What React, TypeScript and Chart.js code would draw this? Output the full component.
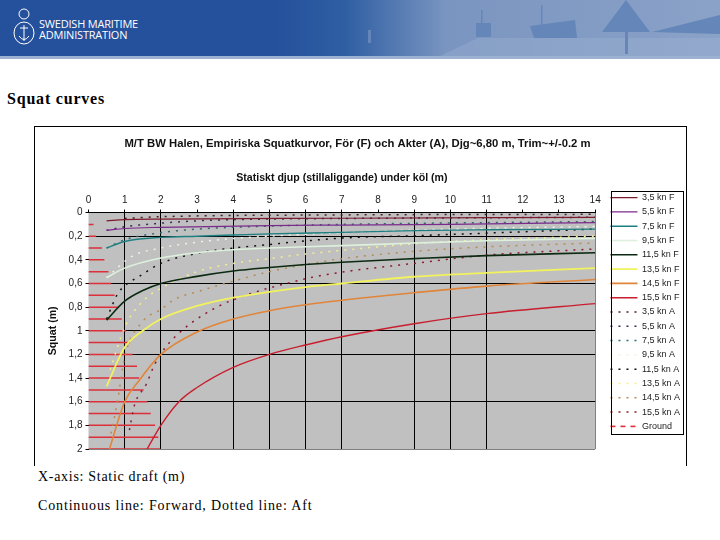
import { useEffect, useRef } from "react"
import { Chart, registerables } from "chart.js"

Chart.register(...registerables)

const CHART_TITLE = "M/T BW Halen, Empiriska Squatkurvor, För (F) och Akter (A), Djg~6,80 m, Trim~+/-0.2 m"
const X_TITLE = "Statiskt djup (stillaliggande) under köl (m)"
const Y_TITLE = "Squat (m)"

// forward curves
const xF35 = [0.5, 1, 2, 7, 14]
const yF35 = [0.07, 0.06, 0.055, 0.048, 0.04]
const xF55 = [0.5, 1, 2, 5, 7, 10, 14]
const yF55 = [0.15, 0.135, 0.125, 0.11, 0.106, 0.1, 0.085]
const xF75 = [0.5, 1, 2, 3, 4, 5, 7, 9, 11, 14]
const yF75 = [0.3, 0.245, 0.21, 0.2, 0.19, 0.18, 0.168, 0.153, 0.146, 0.14]
const xF95 = [0.5, 1, 2, 3, 4, 5, 7, 9, 11, 14]
const yF95 = [0.55, 0.47, 0.385, 0.34, 0.315, 0.3, 0.28, 0.258, 0.238, 0.218]
const xF115 = [0.5, 1, 1.5, 2, 3, 4, 5, 6, 7, 9, 11, 14]
const yF115 = [0.91, 0.75, 0.66, 0.6, 0.54, 0.495, 0.465, 0.44, 0.42, 0.39, 0.364, 0.34]
const xF135 = [0.5, 1, 1.5, 2, 3, 4, 5, 6, 7, 9, 11, 14]
const yF135 = [1.47, 1.14, 1.0, 0.9, 0.79, 0.72, 0.67, 0.63, 0.6, 0.543, 0.51, 0.47]
const xF145 = [0.58, 1, 1.4, 2, 3, 4, 5, 6, 7, 9, 11, 14]
const yF145 = [2.0, 1.6, 1.42, 1.2, 1.01, 0.9, 0.83, 0.78, 0.742, 0.678, 0.622, 0.566]
const xF155 = [1.62, 2, 2.5, 3, 4, 5, 6, 7, 9, 11, 14]
const yF155 = [2.0, 1.8, 1.6, 1.48, 1.31, 1.2, 1.12, 1.05, 0.94, 0.855, 0.77]

// aft curves
const xA35 = [1, 2, 7, 14]
const yA35 = [0.05, 0.035, 0.02, 0.015]
const xA55 = [0.5, 1, 2, 3, 4, 5, 7, 14]
const yA55 = [0.15, 0.12, 0.09, 0.07, 0.06, 0.055, 0.05, 0.04]
const xA75 = [0.5, 1, 2, 3, 5, 7, 14]
const yA75 = [0.3, 0.23, 0.17, 0.14, 0.115, 0.1, 0.076]
const xA95 = [0.5, 1.2, 2, 3, 4, 7, 10, 14]
const yA95 = [0.55, 0.37, 0.3, 0.25, 0.22, 0.17, 0.14, 0.118]
const xA115 = [0.5, 0.8, 1, 1.4, 2, 3, 4, 5, 6, 7, 9, 11, 14]
const yA115 = [0.9, 0.69, 0.62, 0.54, 0.43, 0.345, 0.3, 0.27, 0.24, 0.216, 0.196, 0.174, 0.14]
const xA135 = [0.6, 1, 1.5, 2, 3, 4, 5, 6, 7, 9, 11, 14]
const yA135 = [1.33, 0.97, 0.75, 0.64, 0.5, 0.43, 0.39, 0.35, 0.32, 0.263, 0.23, 0.2]
const xA145 = [0.62, 0.8, 1, 1.5, 2, 2.4, 3, 4, 5, 6, 7, 9, 11, 14]
const yA145 = [1.87, 1.6, 1.22, 0.92, 0.82, 0.73, 0.67, 0.58, 0.5, 0.44, 0.39, 0.328, 0.29, 0.258]
const xA155 = [1.13, 1.27, 1.6, 1.82, 2.1, 2.65, 3.2, 3.9, 6, 7, 9, 11, 14]
const yA155 = [1.84, 1.63, 1.45, 1.29, 1.15, 0.98, 0.86, 0.75, 0.56, 0.504, 0.43, 0.36, 0.308]

// ground: one horizontal stub per depth, from keel-depth 0 out to the reach
const groundDepth = [0.1, 0.2, 0.3, 0.4, 0.5, 0.6, 0.7, 0.8, 0.9, 1, 1.1, 1.2, 1.3, 1.4, 1.5, 1.6, 1.7, 1.8, 1.9, 2]
const groundReach = [0.14, 0.21, 0.37, 0.44, 0.55, 0.62, 0.72, 0.83, 0.92, 1.04, 1.15, 1.22, 1.34, 1.4, 1.52, 1.63, 1.72, 1.84, 1.93, 1.98]

const xTicks = [0, 1, 2, 3, 4, 5, 6, 7, 8, 9, 10, 11, 12, 13, 14]
// grid lines that vanished in the reference scan
const hiddenX = [0, 3, 8, 12, 13]
const hiddenY = [0.4, 0.8, 1.4, 1.8]

const pts = (xs: number[], ys: number[]) => xs.map((x, i) => ({ x, y: ys[i] }))

const curve = (label: string, xs: number[], ys: number[], color: string, width = 1.2) => ({
  label,
  data: pts(xs, ys),
  borderColor: color,
  backgroundColor: color,
  borderWidth: width,
  pointRadius: 0,
  tension: 0.4,
  cubicInterpolationMode: "monotone" as const,
})

const aft = (label: string, xs: number[], ys: number[], color: string) => ({
  ...curve(label, xs, ys, color, 1.5),
  borderDash: [2, 6],
})

const plotBg = {
  id: "plotBg",
  beforeDraw(chart: Chart) {
    const { ctx, chartArea: a } = chart
    ctx.save()
    ctx.fillStyle = "#c0c0c0"
    ctx.fillRect(a.left, a.top, a.width, a.height)
    ctx.restore()
  },
}

const legendBox = {
  id: "legendBox",
  afterLayout(chart: Chart) {
    // legend sits lower and further right than the layout would put it
    const l = chart.legend as any
    l.top += 24
    l.bottom += 24
    l.left += 10
    l.right += 10
  },
  afterDraw(chart: Chart) {
    const { ctx } = chart
    ctx.save()
    ctx.strokeStyle = "#000"
    ctx.lineWidth = 1
    ctx.strokeRect(576.5, 64.5, 72, 243)
    ctx.restore()
  },
}

function SquatChart() {
  const chartRef = useRef<HTMLCanvasElement>(null)

  useEffect(() => {
    if (!chartRef.current) return
    const chart = new Chart(chartRef.current, {
      type: "line",
      data: {
        datasets: [
          curve("3,5 kn F", xF35, yF35, "#7a1a2c"),
          curve("5,5 kn F", xF55, yF55, "#7b2a8c"),
          curve("7,5 kn F", xF75, yF75, "#1d7f80", 1.4),
          curve("9,5 kn F", xF95, yF95, "#dcf0dc", 1.6),
          curve("11,5 kn F", xF115, yF115, "#0c2a12", 1.6),
          curve("13,5 kn F", xF135, yF135, "#f2f25e", 1.8),
          curve("14,5 kn F", xF145, yF145, "#e0853a", 1.6),
          curve("15,5 kn F", xF155, yF155, "#c81e2e", 1.4),
          aft("3,5 kn A", xA35, yA35, "#4a1a20"),
          aft("5,5 kn A", xA55, yA55, "#3a2a60"),
          aft("7,5 kn A", xA75, yA75, "#2a6a70"),
          aft("9,5 kn A", xA95, yA95, "#eef4e4"),
          aft("11,5 kn A", xA115, yA115, "#111111"),
          aft("13,5 kn A", xA135, yA135, "#f5f08a"),
          aft("14,5 kn A", xA145, yA145, "#b88a52"),
          aft("15,5 kn A", xA155, yA155, "#8a1a30"),
          {
            label: "Ground",
            data: groundDepth.flatMap((d, i) => [
              { x: 0, y: d },
              { x: groundReach[i], y: d },
              { x: groundReach[i], y: NaN },
            ]),
            borderColor: "#dc2f3a",
            backgroundColor: "#dc2f3a",
            borderWidth: 1.5,
            pointRadius: 0,
            tension: 0,
          },
        ],
      },
      options: {
        responsive: false,
        animation: false,
        layout: { padding: { right: 6, bottom: 16 } },
        plugins: {
          title: {
            display: true,
            text: CHART_TITLE,
            color: "#111",
            font: { family: "Liberation Sans", size: 11.3, weight: "bold" },
            padding: { top: 10, bottom: 21 },
          },
          legend: {
            position: "right",
            labels: {
              usePointStyle: true,
              pointStyle: "line",
              pointStyleWidth: 27,
              boxHeight: 6,
              padding: 5.3,
              color: "#222",
              font: { family: "Liberation Sans", size: 9 },
              generateLabels(chart) {
                const items = Chart.defaults.plugins.legend.labels.generateLabels(chart)
                return items.map((it) => {
                  const ds: any = chart.data.datasets[it.datasetIndex as number]
                  if (it.text === "Ground") return { ...it, lineDash: [5, 5], lineWidth: 1.6 }
                  return { ...it, lineDash: ds.borderDash || [], lineWidth: ds.borderWidth }
                })
              },
            },
          },
          tooltip: { enabled: false },
        },
        scales: {
          x: {
            type: "linear",
            position: "top",
            min: 0,
            max: 14,
            afterFit(scale) {
              scale.height = 41
            },
            afterBuildTicks(scale) {
              scale.ticks = xTicks.map((value) => ({ value }))
            },
            title: {
              display: true,
              text: X_TITLE,
              color: "#111",
              font: { family: "Liberation Sans", size: 10.6, weight: "bold" },
              padding: { top: 0, bottom: 6 },
            },
            ticks: {
              color: "#222",
              padding: 3,
              maxRotation: 0,
              autoSkip: false,
              font: { family: "Liberation Sans", size: 10 },
            },
            border: { display: false },
            grid: {
              drawTicks: true,
              tickLength: 3,
              tickColor: "#000",
              lineWidth: 1,
              color: (c) => {
                const v = c.tick?.value
                if (hiddenX.includes(v)) return "rgba(0,0,0,0)"
                return v === 14 ? "#808080" : "#000"
              },
            },
          },
          y: {
            type: "linear",
            reverse: true,
            min: 0,
            max: 2,
            afterFit(scale) {
              scale.width = 53.5
            },
            title: {
              display: true,
              text: Y_TITLE,
              color: "#111",
              font: { family: "Liberation Sans", size: 10.6, weight: "bold" },
              padding: { top: 12, bottom: 0 },
            },
            ticks: {
              stepSize: 0.2,
              color: "#222",
              padding: 3,
              font: { family: "Liberation Sans", size: 10 },
              callback: (v) => String(Math.round(Number(v) * 10) / 10).replace(".", ","),
            },
            border: { display: false },
            grid: {
              tickLength: 3,
              tickColor: "#000",
              lineWidth: 1,
              color: (c) => {
                const v = Math.round((c.tick?.value ?? 0) * 10) / 10
                if (hiddenY.includes(v)) return "rgba(0,0,0,0)"
                return v === 2 ? "#808080" : "#000"
              },
            },
          },
        },
      },
      plugins: [plotBg, legendBox],
    })
    return () => chart.destroy()
  }, [])

  return <canvas ref={chartRef} width={651} height={338} style={{ display: "block" }} />
}

function Banner() {
  const fade = "#6486b8"
  return (
    <div style={{ position: "absolute", left: 0, top: 0, width: 720, height: 59, background: "#9db2d2" }}>
      <div
        style={{
          position: "absolute",
          left: 0,
          top: 0,
          width: 720,
          height: 56,
          background: "linear-gradient(90deg, #25509c 0%, #25509c 38%, #2f5fa3 48%, #7a95c0 62%, #8ba2c8 100%)",
          overflow: "hidden",
        }}
      >
        <svg width={720} height={56} style={{ position: "absolute", left: 0, top: 0 }}>
          <polygon points="440,56 478,38 720,38 720,56" fill="#a4b8d6" opacity={0.3} />
          <rect x={368} y={30} width={3} height={13} fill={fade} />
          <rect x={476} y={23} width={15} height={14} fill={fade} />
          <rect x={481} y={10} width={1.5} height={14} fill={fade} />
          <polygon points="530,26 575,20 577,38 534,38" fill={fade} />
          <rect x={541} y={5} width={1.5} height={20} fill={fade} />
          <polygon points="626,0 602,32 650,32" fill={fade} />
          <rect x={625} y={32} width={3} height={22} fill={fade} />
          <polygon points="652,32 720,15 720,34" fill={fade} />
          <g fill="none" stroke="#fff" strokeWidth={1}>
            <ellipse cx={24} cy={33} rx={10} ry={11} />
            <circle cx={24} cy={14} r={5} />
            <path d="M24 25 V41 M19 36 Q24 43 29 36 M20 28 H28" />
          </g>
        </svg>
        <div
          style={{
            position: "absolute",
            left: 39,
            top: 19,
            color: "#fff",
            fontFamily: "Open Sans",
            fontSize: 11,
            lineHeight: "10.5px",
            letterSpacing: -0.2,
          }}
        >
          SWEDISH MARITIME
          <br />
          ADMINISTRATION
        </div>
      </div>
    </div>
  )
}

export default function App() {
  const serif = { position: "absolute" as const, fontFamily: "Liberation Serif", color: "#000", whiteSpace: "nowrap" as const }
  return (
    <div style={{ position: "absolute", left: 0, top: 0, width: 720, height: 540, background: "#fff", overflow: "hidden" }}>
      <Banner />
      <div style={{ ...serif, left: 7, top: 90, fontSize: 16, fontWeight: "bold", letterSpacing: 0.8 }}>Squat curves</div>
      <div
        style={{
          position: "absolute",
          left: 34,
          top: 126,
          width: 651,
          height: 339,
          borderTop: "1px solid #000",
          borderLeft: "1px solid #000",
          borderRight: "1px solid #000",
          overflow: "hidden",
        }}
      >
        <SquatChart />
      </div>
      <div style={{ ...serif, left: 38, top: 469, fontSize: 14, letterSpacing: 0.7 }}>X-axis: Static draft (m)</div>
      <div style={{ ...serif, left: 38, top: 498, fontSize: 14, letterSpacing: 0.85 }}>
        Continuous line: Forward, Dotted line: Aft
      </div>
    </div>
  )
}
